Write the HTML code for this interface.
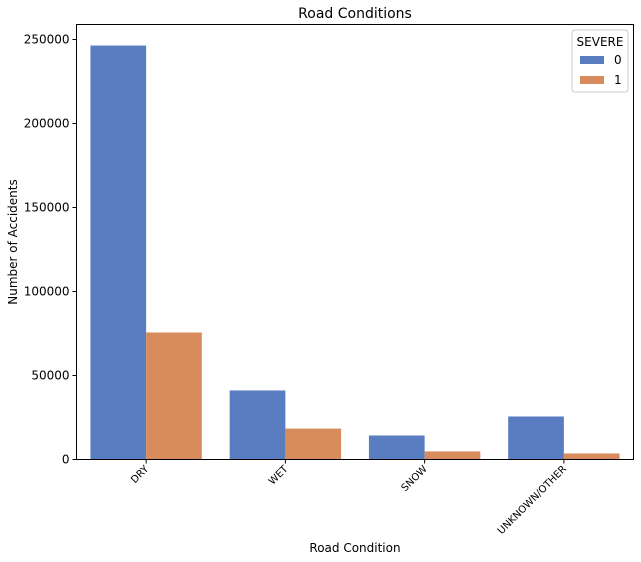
<!DOCTYPE html>
<html><head><meta charset="utf-8"><style>body{margin:0;background:#fff}svg{display:block;font-family:"DejaVu Sans","Liberation Sans",sans-serif}</style></head>
<body>
<svg id="chart" width="641" height="562" viewBox="0 0 641 562" xmlns="http://www.w3.org/2000/svg">
<rect width="641" height="562" fill="#fff"/>
<text x="355" y="18" font-size="14" text-anchor="middle">Road Conditions</text>
<g id="bars"></g>
<g id="axes"></g>
<rect x="76.5" y="24.5" width="557" height="435" fill="none" stroke="#000" stroke-width="1"/>
<text x="355" y="552" font-size="12" text-anchor="middle">Road Condition</text>
<text transform="translate(17,242) rotate(-90)" font-size="12" text-anchor="middle">Number of Accidents</text>
<g>
<rect x="572" y="30" width="56" height="62" rx="3" fill="#fff" stroke="#ccc"/>
<text x="600" y="46" font-size="12" text-anchor="middle">SEVERE</text>
<rect x="580" y="56" width="24" height="8" fill="#5a7dc1"/>
<text x="614" y="64" font-size="12">0</text>
<rect x="580" y="76" width="24" height="8" fill="#d88b5d"/>
<text x="614" y="84" font-size="12">1</text>
</g>
</svg>
<script>
const categories = ["DRY","WET","SNOW","UNKNOWN/OTHER"];
const severe0 = [246400, 41100, 14300, 25600];
const severe1 = [75600, 18400, 4800, 3600];
const yTicks = [0,50000,100000,150000,200000,250000];
const NS='http://www.w3.org/2000/svg';
const L=76.5,R=633.5,B=459.5;
const step=(R-L)/categories.length;
function xc(i){return L+step*(i+0.5);}
function y(v){return B - v*(84/50000);}
const bars=document.getElementById('bars'),axes=document.getElementById('axes');
function mk(t,a,p){const e=document.createElementNS(NS,t);for(const k in a)e.setAttribute(k,a[k]);p.appendChild(e);return e;}
const bw=step*0.4;
categories.forEach((c,i)=>{
  [[severe0,'#5a7dc1',-1],[severe1,'#d88b5d',0]].forEach(([s,col,o],j)=>{
    const r=mk('rect',{x:xc(i)+o*bw,y:y(s[i]),width:bw,height:B-y(s[i]),fill:col},bars);
    
    
  });
  const tk=mk('line',{x1:xc(i),x2:xc(i),y1:B,y2:B+4,stroke:'#000'},axes);
  
  
  const t=mk('text',{x:xc(i)+3,y:B+10,'font-size':10,'text-anchor':'end',transform:`rotate(-45 ${xc(i)+3} ${B+10})`},axes);
  t.textContent=c;
  
  
});
yTicks.forEach(v=>{
  const tk=mk('line',{x1:L-4,x2:L,y1:y(v),y2:y(v),stroke:'#000'},axes);
  
  
  const t=mk('text',{x:L-7,y:y(v)+4,'font-size':12,'text-anchor':'end'},axes);
  t.textContent=v;
  
  
});
</script>
</body></html>
